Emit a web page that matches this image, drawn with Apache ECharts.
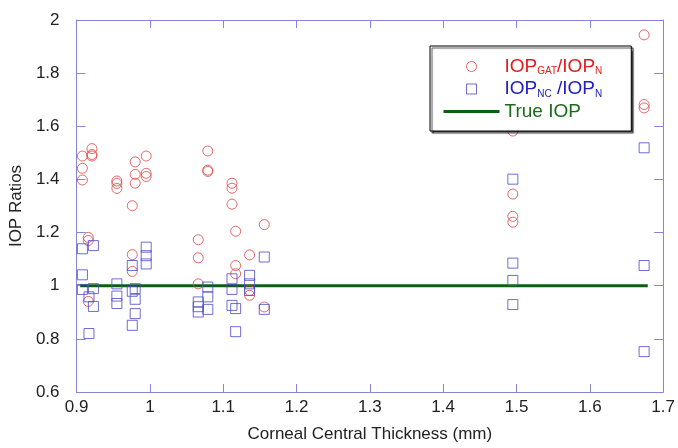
<!DOCTYPE html>
<html><head><meta charset="utf-8">
<script src="https://cdn.jsdelivr.net/npm/echarts@6/dist/echarts.min.js"></script>
<style>html,body{margin:0;padding:0;background:#fff}#c{width:678px;height:448px}</style>
</head><body><div id="c"></div>
<script>
var xTicks = [0.9, 1.7, 0.1];
var yTicks = [0.6, 2, 0.2];
var gatThickness = [0.908,0.908,0.908, 0.921,0.921,0.921, 0.916,0.916,0.916, 0.955,0.955,0.955, 0.980,0.980,0.980, 0.976,0.976,0.976, 0.995,0.995,0.995, 1.066,1.066,1.066, 1.079,1.079,1.079, 1.112,1.112,1.112, 1.117,1.117,1.117, 1.136,1.136,1.136, 1.156,1.156, 1.495,1.495,1.495,1.495, 1.674,1.674,1.674];
var gatRatio = [1.488,1.442,1.398, 1.516,1.494,1.488, 1.182,1.170,0.941, 1.394,1.385,1.366, 1.466,1.419,1.386, 1.301,1.117,1.054, 1.488,1.423,1.411, 1.173,1.105,1.007, 1.507,1.435,1.430, 1.386,1.367,1.307, 1.205,1.076,1.045, 1.116,0.982,0.964, 1.230,0.920, 1.582,1.345,1.261,1.239, 1.944,1.682,1.669];
var ncThickness = [0.908,0.908,0.908, 0.917,0.917, 0.923,0.923,0.923, 0.955,0.955,0.955, 0.976,0.976,0.976, 0.980,0.980,0.980, 0.995,0.995,0.995, 1.066,1.066,1.066, 1.079,1.079,1.079, 1.112,1.112,1.112, 1.117,1.117, 1.136,1.136,1.136, 1.156,1.156, 1.495,1.495,1.495,1.495, 1.674,1.674,1.674];
var ncRatio = [1.139,1.041,0.986, 0.958,0.820, 1.151,0.989,0.922, 1.007,0.961,0.933, 1.076,0.979,0.851, 0.989,0.949,0.895, 1.145,1.113,1.082, 0.939,0.921,0.901, 0.995,0.958,0.911, 1.026,0.986,0.926, 0.914,0.827, 1.039,1.007,0.982, 1.108,0.911, 1.401,1.085,1.020,0.929, 1.519,1.076,0.752];
var trueX = [0.905, 1.679];
var trueY = [1, 1];

function zip(a, b) { return a.map(function (v, i) { return [v, b[i]]; }); }

var FONT = "'Liberation Sans', Arial, sans-serif";
var AXC = '#8585de';
var RED = '#dd4444', BLUE = '#4848c8', GREEN = '#0d5e12';

function xAxis(pos, show) {
  return {
    type: 'value', position: pos, min: xTicks[0], max: xTicks[1], interval: xTicks[2],
    axisLine: { show: true, lineStyle: { color: AXC, width: 1 } },
    axisTick: { show: true, inside: true, length: 8, lineStyle: { color: AXC } },
    splitLine: { show: false },
    axisLabel: { show: show, color: '#222', fontSize: 17, fontFamily: FONT, margin: 7 },
    name: show ? 'Corneal Central Thickness (mm)' : '', nameLocation: 'middle', nameGap: 34,
    nameTextStyle: { color: '#222', fontSize: 17, fontFamily: FONT }
  };
}
function yAxis(pos, show) {
  return {
    type: 'value', position: pos, min: yTicks[0], max: yTicks[1], interval: yTicks[2],
    axisLine: { show: true, lineStyle: { color: AXC, width: 1 } },
    axisTick: { show: true, inside: true, length: 9, lineStyle: { color: AXC } },
    splitLine: { show: false },
    axisLabel: { show: show, color: '#222', fontSize: 17, fontFamily: FONT, margin: 17 },
    name: show ? 'IOP Ratios' : '', nameLocation: 'middle', nameGap: 48,
    nameTextStyle: { color: '#222', fontSize: 17, fontFamily: FONT }
  };
}

var chart = echarts.init(document.getElementById('c'), null, { renderer: 'canvas' });
chart.setOption({
  animation: false,
  backgroundColor: '#fff',
  grid: { left: 76, right: 12, top: 20, bottom: 54 },
  xAxis: [xAxis('bottom', true), xAxis('top', false)],
  yAxis: [yAxis('left', true), yAxis('right', false)],
  legend: {
    orient: 'vertical', left: 430, top: 46,
    padding: [11, 29, 10, 12],
    itemWidth: 56, itemHeight: 10, itemGap: 3,
    backgroundColor: '#fff', borderColor: '#000', borderWidth: 1,
    shadowColor: 'rgba(0,0,0,0.7)', shadowBlur: 1, shadowOffsetX: 2, shadowOffsetY: 2,
    selectedMode: false,
    textStyle: {
      fontFamily: FONT,
      rich: {
        r: { color: '#e02020', fontSize: 19, lineHeight: 20, fontFamily: FONT },
        rs: { color: '#e02020', fontSize: 10, lineHeight: 12, verticalAlign: 'bottom', fontFamily: FONT },
        b: { color: '#2020c0', fontSize: 19, lineHeight: 20, fontFamily: FONT },
        bs: { color: '#2020c0', fontSize: 10, lineHeight: 12, verticalAlign: 'bottom', fontFamily: FONT },
        g: { color: '#1a6b1a', fontSize: 19, lineHeight: 20, fontFamily: FONT }
      }
    },
    formatter: function (name) {
      if (name === 'gat') return '{r|IOP}{rs|GAT}{r|/IOP}{rs|N}';
      if (name === 'nc') return '{b|IOP}{bs|NC}{b| /IOP}{bs|N}';
      return '{g|True IOP}';
    },
    data: [
      { name: 'gat', icon: 'circle', itemStyle: { color: 'transparent', borderColor: RED, borderWidth: 1 } },
      { name: 'nc', icon: 'path://M0,0H10V10H0Z', itemStyle: { color: 'transparent', borderColor: BLUE, borderWidth: 1 } },
      { name: 'true', itemStyle: { color: 'transparent', borderColor: 'transparent', borderWidth: 0, opacity: 0 }, lineStyle: { color: GREEN, width: 3 } }
    ]
  },
  series: [
    {
      name: 'gat', type: 'scatter', data: zip(gatThickness, gatRatio),
      symbol: 'circle', symbolSize: 10, symbolKeepAspect: true,
      itemStyle: { color: 'transparent', borderColor: RED, borderWidth: 1 }
    },
    {
      name: 'nc', type: 'scatter', data: zip(ncThickness, ncRatio),
      symbol: 'path://M0,0H10V10H0Z', symbolSize: 10, symbolKeepAspect: true,
      itemStyle: { color: 'transparent', borderColor: BLUE, borderWidth: 1 }
    },
    {
      name: 'true', type: 'line', data: zip(trueX, trueY), symbol: 'none', showSymbol: false, z: 1,
      itemStyle: { color: GREEN },
      lineStyle: { color: GREEN, width: 3 }
    }
  ]
});
</script></body></html>
